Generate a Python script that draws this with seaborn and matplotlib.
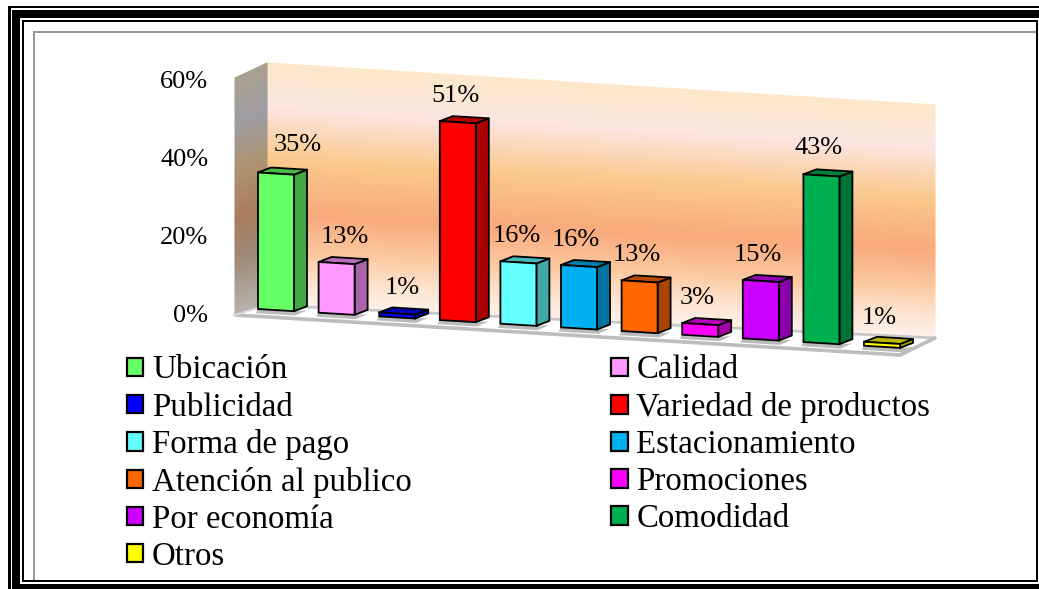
import numpy as np
import pandas as pd
import matplotlib
matplotlib.use("Agg")
import matplotlib.pyplot as plt
from matplotlib.colors import LinearSegmentedColormap, to_rgb
from matplotlib.patches import Patch, Polygon, Rectangle
from matplotlib.transforms import Affine2D
import seaborn as sns

# ---------- data ----------
categories = ["Ubicación", "Calidad", "Publicidad", "Variedad de productos",
              "Forma de pago", "Estacionamiento", "Atención al publico",
              "Promociones", "Por economía", "Comodidad", "Otros"]
values = [35, 13, 1, 51, 16, 16, 13, 3, 15, 43, 1]
bar_colors = ["#66FF66", "#FF99FF", "#0000FF", "#FF0000", "#66FFFF", "#00B0F0",
              "#FF6600", "#FF00FF", "#CC00FF", "#00B050", "#FFFF00"]
y_ticks = [0, 20, 40, 60]
y_tick_labels = ["0%", "20%", "40%", "60%"]

# ---------- style ----------
W, H = 1039, 589
sns.set_theme(style="white")
plt.rcParams["font.family"] = ["Liberation Serif", "DejaVu Serif"]
FS = 19
FS_LEG = 23.7

fig = plt.figure(figsize=(W / 100, H / 100), dpi=100, facecolor="white")

# Pixel canvas for frame, walls and floor
cv = fig.add_axes([0, 0, 1, 1], zorder=0)
cv.set_xlim(0, W)
cv.set_ylim(H, 0)
cv.axis("off")


def block(x0, y0, x1, y1, c="black"):
    cv.add_patch(Rectangle((x0, y0), x1 - x0, y1 - y0, fc=c, ec="none", zorder=5))


# frame
block(8, 6, W, 8)
block(8, 6, 11, H)
block(12, 10, W, 18)
block(12, 10, 20, H)
block(12, 584, W, H)
block(22, 20, 1038, 22)
block(22, 20, 24, 582)
block(22, 580, 1038, 582)
block(1036, 20, 1038, 582)
block(33, 31, 1036, 33, "#999999")
block(33, 31, 35, 580, "#999999")

# back wall gradient
wall_stops = [(0.0, "#FCE8C8"), (0.18, "#FBE6E3"), (0.40, "#FAC98C"),
              (0.62, "#F8AA7C"), (0.78, "#FBC9A0"), (0.89, "#FDE2CC"), (1.0, "#FDF2EC")]
side_stops = [(0.0, "#AAA090"), (0.2, "#9E9DA3"), (0.4, "#AE9470"),
              (0.6, "#A87C5C"), (0.78, "#A08C7C"), (1.0, "#B8B4AE")]


def gradient_quad(corners, stops):
    (xl, ytl, ybl), (xr, ytr, ybr) = corners
    t = np.linspace(0, 1, 60)
    X = np.column_stack([np.full_like(t, xl), np.full_like(t, xr)])
    Y = np.column_stack([ytl + (ybl - ytl) * t, ytr + (ybr - ytr) * t])
    T = np.column_stack([t, t])
    cmap = LinearSegmentedColormap.from_list("g", stops)
    cv.pcolormesh(X, Y, T, shading="gouraud", cmap=cmap, vmin=0, vmax=1, zorder=1)


gradient_quad([(267, 63, 305), (935, 105, 338)], wall_stops)
gradient_quad([(235, 78, 315), (267, 63, 305)], side_stops)

# floor
cv.add_patch(Polygon([(235, 315), (267, 305), (935, 338), (900, 355)],
                     closed=True, fc="white", ec="none", zorder=2))
cv.plot([267, 935], [305, 338], color="#C8C8C8", lw=2, zorder=2.1)
cv.plot([235, 900, 935], [315, 355, 338], color="#BDBDBD", lw=2.6, zorder=2.1)
cv.plot([235, 267], [315, 305], color="#D8D8D8", lw=1.5, zorder=2.1)

# Chart axes: category i is centred at 276 + 60.6 i, 0 % at y = 314, 60 % at y = 80
STEP = 60.6
PX = 3.9
left = 276 - STEP / 2
ax = fig.add_axes([left / W, (H - 314) / H, 11 * STEP / W, 60 * PX / H], zorder=1)
ax.patch.set_alpha(0)

df = pd.DataFrame({"categoria": categories, "valor": values})
sns.barplot(data=df, x="categoria", y="valor", hue="categoria", palette=bar_colors,
            hue_order=categories, order=categories, dodge=False, width=36 / STEP,
            saturation=1, edgecolor="black", linewidth=1.3, legend=False, ax=ax)
ax.set_xlim(-0.5, 10.5)
ax.set_ylim(0, 60)
ax.set_xlabel("")
ax.set_ylabel("")
ax.set_xticks([])
ax.set_yticks(y_ticks)
ax.set_yticklabels(y_tick_labels, fontsize=FS, color="black")
ax.tick_params(axis="y", length=0, pad=27)
sns.despine(ax=ax, left=True, bottom=True)

# Shear the plot plane so the baseline falls to the right like the 3-D original
k = (3.67 / PX)
shear = Affine2D(np.array([[1, 0, 0], [-k, 1, 1.0], [0, 0, 1]], dtype=float)) + ax.transData

dx = 13 / STEP
dy = 5 / PX + k * dx
label_nudge = [22, 8, 5, -2, -2, -3, -3, -3, -3, -3, -3]
label_rise = [28, 25, 24, 25, 25, 25, 25, 25, 25, 26, 24]
bars = list(ax.patches)[:len(values)]
for bar, col, val, nudge, rise in zip(bars, bar_colors, values, label_nudge, label_rise):
    bar.set_transform(shear)
    bar.set_clip_on(False)
    bar.set_zorder(4)
    x0, x1 = bar.get_x(), bar.get_x() + bar.get_width()
    y1 = bar.get_height()
    rgb = np.array(to_rgb(col))
    side = tuple(rgb * 0.66)
    top = tuple(rgb * 0.72)
    kw = dict(closed=True, transform=shear, clip_on=False, ec="black", lw=1.3,
              joinstyle="round")
    ax.add_patch(Polygon([(x1, 0), (x1 + dx, dy), (x1 + dx, y1 + dy), (x1, y1)],
                         fc=side, zorder=3.5, **kw))
    ax.add_patch(Polygon([(x0, y1), (x0 + dx, y1 + dy), (x1 + dx, y1 + dy), (x1, y1)],
                         fc=top, zorder=3.5, **kw))
    # soft floor shadow below the bar
    ax.add_patch(Polygon([(x0 - 0.04, -1.1), (x1 + 0.02, -1.1), (x1 + dx + 0.07, dy - 0.5),
                          (x1 + dx, 0.4), (x1, 0), (x0, 0)],
                         closed=True, transform=shear, clip_on=False, fc="#8E8E8E",
                         ec="none", alpha=0.6, zorder=3))
    ax.annotate(f"{val}%", xy=(x0, y1), xycoords=shear, xytext=(18 + nudge, rise),
                textcoords="offset pixels", ha="center", va="center",
                fontsize=FS, color="black", annotation_clip=False, zorder=6)

# Legend: filled row by row in the original, so the handles go column by column here
handles = [Patch(facecolor=c, edgecolor="black", linewidth=1.6, label=n)
           for c, n in zip(bar_colors, categories)]
order = [0, 2, 4, 6, 8, 10, 1, 3, 5, 7, 9]
leg = fig.legend([handles[i] for i in order], [categories[i] for i in order],
                 loc="upper left", bbox_to_anchor=(127 / W, 1 - 355 / H),
                 bbox_transform=fig.transFigure, ncols=2, frameon=False,
                 fontsize=FS_LEG, labelcolor="black", borderpad=0, borderaxespad=0,
                 handlelength=0.487, handleheight=0.487, handletextpad=0.27,
                 labelspacing=0.2, columnspacing=6.07)

fig.savefig("out.png", dpi=100, facecolor="white")
